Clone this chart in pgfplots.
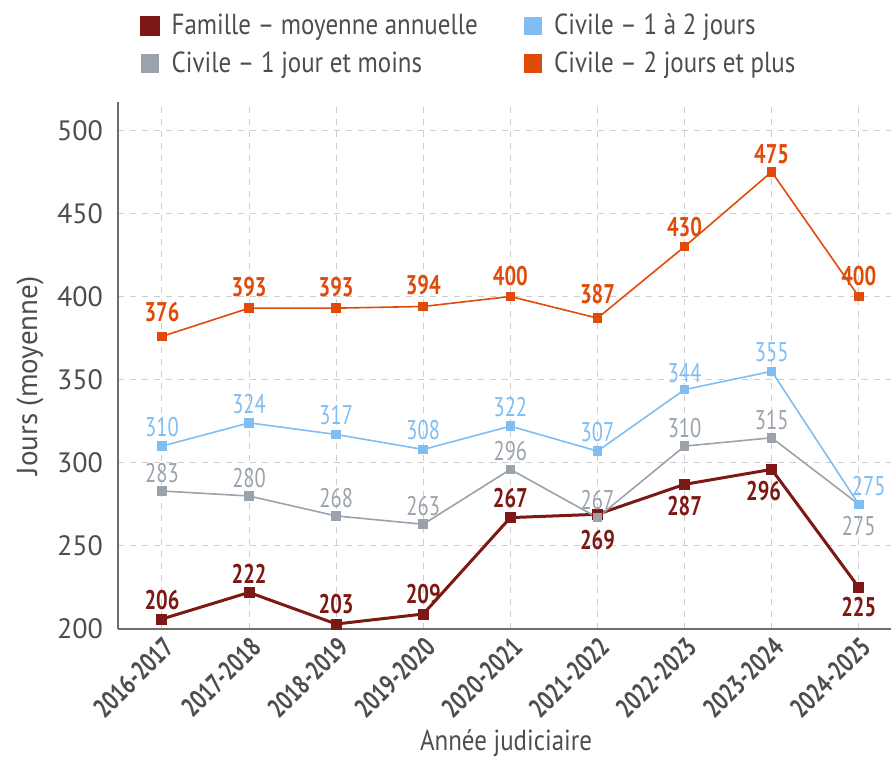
\documentclass[border=0pt]{standalone}
\usepackage{pgfplots}
\pgfplotsset{compat=1.18}
\usepackage{fontspec}
\setmainfont{PT Sans}
\newfontfamily\condfont[FakeStretch=0.76, Ligatures=TeX]{PT Sans}
\newfontfamily\narfont[FakeStretch=0.86, Ligatures=TeX]{PT Sans}
\definecolor{famille}{RGB}{125,25,20}
\definecolor{civun}{RGB}{154,163,171}
\definecolor{civdeux}{RGB}{127,189,242}
\definecolor{civplus}{RGB}{224,75,10}
\definecolor{txt}{RGB}{77,77,77}
\definecolor{gridgray}{RGB}{205,205,205}
\definecolor{axgray}{RGB}{110,110,110}
\begin{document}
\begin{tikzpicture}
\begin{axis}[
  scale only axis, width=386.5pt, height=263.5pt,
  xmin=-0.505, xmax=8.37, ymin=200, ymax=517,
  axis x line*=bottom, axis y line*=left,
  axis line style={-, draw=axgray, line width=0.9pt},
  xtick={0,...,8},
  xticklabels={2016-2017,2017-2018,2018-2019,2019-2020,2020-2021,2021-2022,2022-2023,2023-2024,2024-2025},
  ytick={200,250,...,500},
  major tick length=0pt,
  grid=major,
  major grid style={dashed, draw=gridgray, line width=0.5pt},
  /pgf/number format/assume math mode=true,
  yticklabel style={font=\fontsize{14}{16}\selectfont, text=txt, xshift=-4pt},
  xticklabel style={rotate=45, anchor=north east, font=\condfont\bfseries\fontsize{13.5}{15}\selectfont, text=txt, inner sep=2pt},
  ylabel={Jours (moyenne)},
  xlabel={Année judiciaire},
  ylabel style={at={(axis description cs:-0.114,0.48)}, anchor=center, font=\fontsize{14.5}{16}\selectfont, text=txt},
  xlabel style={at={(axis description cs:0.502,-0.216)}, anchor=center, font=\narfont\fontsize{14.5}{16}\selectfont, text=txt},
  legend columns=2, transpose legend,
  legend style={draw=none, fill=none, at={(axis description cs:0.02,1.183)}, anchor=north west,
    font=\narfont\fontsize{14.5}{16}\selectfont, text=txt, row sep=3pt,
    /tikz/every odd column/.append style={column sep=4pt},
    /tikz/every even column/.append style={column sep=21pt}},
  legend cell align=left,
  legend image code/.code={\fill[#1] (0pt,-4.2pt) rectangle (8.4pt,4.2pt);},
  nodes near coords,
  point meta=explicit symbolic,
  visualization depends on={value \thisrow{dy}\as\dy},
  visualization depends on={value \thisrow{dx}\as\dx},
  every node near coord/.append style={anchor=center, yshift=\dy pt, xshift=\dx pt},
]
\addplot[famille, line width=1.5pt, mark=square*, mark size=2pt,
  every node near coord/.append style={font=\condfont\bfseries\fontsize{13.5}{15}\selectfont, text=famille}]
  table[x=x, y=y, meta=lab] {
x y lab dy dx
0 206 206 9.5 0
1 222 222 9.5 0
2 203 203 10 0
3 209 209 10 0
4 267 267 10 0
5 269 269 -13 0
6 287 287 -11 0
7 296 296 -11 -4
8 225 225 -10 0
};
\addlegendentry{Famille – moyenne annuelle}
\addplot[civun, line width=0.8pt, mark=square*, mark size=2pt,
  every node near coord/.append style={font=\condfont\fontsize{13.5}{15}\selectfont, text=civun}]
  table[x=x, y=y, meta=lab] {
x y lab dy dx
0 283 283 9 0
1 280 280 9 0
2 268 268 9 0
3 263 263 9 0
4 296 296 9 0
5 267 267 9 0
6 310 310 9 0
7 315 315 9 0
8 275 275 -11 0
};
\addlegendentry{Civile – 1 jour et moins}
\addplot[civdeux, line width=0.8pt, mark=square*, mark size=2pt,
  every node near coord/.append style={font=\condfont\fontsize{13.5}{15}\selectfont, text=civdeux}]
  table[x=x, y=y, meta=lab] {
x y lab dy dx
0 310 310 9.5 0
1 324 324 9.5 0
2 317 317 9.5 0
3 308 308 9.5 0
4 322 322 9.5 0
5 307 307 9.5 0
6 344 344 8.5 0
7 355 355 9.5 0
8 275 275 9 5
};
\addlegendentry{Civile – 1 à 2 jours}
\addplot[civplus, line width=0.8pt, mark=square*, mark size=2pt,
  every node near coord/.append style={font=\condfont\bfseries\fontsize{13.5}{15}\selectfont, text=civplus}]
  table[x=x, y=y, meta=lab] {
x y lab dy dx
0 376 376 12 0
1 393 393 10.5 0
2 393 393 10.5 0
3 394 394 10.5 0
4 400 400 10 0
5 387 387 12 0
6 430 430 10 0
7 475 475 9 0
8 400 400 10 0
};
\addlegendentry{Civile – 2 jours et plus}
\end{axis}
\pgfresetboundingbox
\useasboundingbox (-59pt,-65pt) rectangle (386.5pt,314.5pt);
\end{tikzpicture}
\end{document}
